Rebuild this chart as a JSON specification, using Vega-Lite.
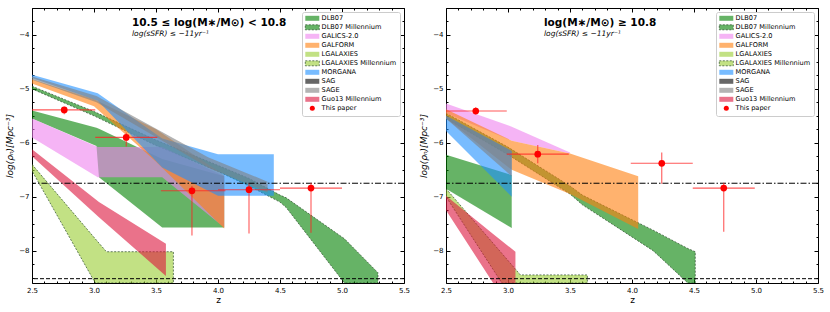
{
  "$schema": "https://vega.github.io/schema/vega-lite/v6.json",
  "padding": {"left": 5, "top": 7, "right": 5, "bottom": 4},
  "spacing": 8,
  "config": {
    "view": {"stroke": "black", "strokeWidth": 1},
    "font": "DejaVu Sans",
    "axis": {"grid": false, "domain": false, "labelFont": "DejaVu Sans", "labelFontSize": 7, "labelColor": "black", "tickColor": "black", "labelFlush": false, "labelOverlap": false, "titleFont": "DejaVu Sans", "titleColor": "black", "titleFontWeight": "normal"},
    "legend": {"title": null, "orient": "top-right", "offset": 4, "fillColor": "white", "strokeColor": "#cccccc", "cornerRadius": 2, "padding": 3, "labelFontSize": 6.6, "labelFont": "DejaVu Sans", "labelColor": "black", "symbolSize": 25, "symbolStrokeWidth": 0.7, "rowPadding": 0, "labelOffset": 6, "symbolOffset": 4}
  },
  "datasets": {
    "bands": [
      {"panel": "L", "series": "DLB07", "z": 2.5, "hi": -5.40, "lo": -5.55},
      {"panel": "L", "series": "DLB07", "z": 3.02, "hi": -5.72, "lo": -6.06},
      {"panel": "L", "series": "DLB07", "z": 3.04, "hi": -5.74, "lo": -6.64},
      {"panel": "L", "series": "DLB07", "z": 3.55, "hi": -6.30, "lo": -7.57},
      {"panel": "L", "series": "DLB07", "z": 4.05, "hi": -6.62, "lo": -7.57},
      {"panel": "L", "series": "DLB07 Millennium", "z": 2.5, "hi": -4.95, "lo": -5.00},
      {"panel": "L", "series": "DLB07 Millennium", "z": 3.0, "hi": -5.42, "lo": -5.50},
      {"panel": "L", "series": "DLB07 Millennium", "z": 3.5, "hi": -5.95, "lo": -6.05},
      {"panel": "L", "series": "DLB07 Millennium", "z": 4.0, "hi": -6.42, "lo": -6.53},
      {"panel": "L", "series": "DLB07 Millennium", "z": 4.25, "hi": -6.66, "lo": -6.80},
      {"panel": "L", "series": "DLB07 Millennium", "z": 4.5, "hi": -6.97, "lo": -7.10},
      {"panel": "L", "series": "DLB07 Millennium", "z": 4.55, "hi": -7.02, "lo": -7.20},
      {"panel": "L", "series": "DLB07 Millennium", "z": 5.02, "hi": -7.78, "lo": -8.60},
      {"panel": "L", "series": "DLB07 Millennium", "z": 5.29, "hi": -8.41, "lo": -8.60},
      {"panel": "L", "series": "GALICS-2.0", "z": 2.5, "hi": -5.55, "lo": -5.90},
      {"panel": "L", "series": "GALICS-2.0", "z": 3.03, "hi": -6.08, "lo": -6.64},
      {"panel": "L", "series": "GALICS-2.0", "z": 3.55, "hi": -6.08, "lo": -6.64},
      {"panel": "L", "series": "GALICS-2.0", "z": 4.05, "hi": -6.62, "lo": -7.57},
      {"panel": "L", "series": "GALFORM", "z": 2.5, "hi": -4.82, "lo": -4.90},
      {"panel": "L", "series": "GALFORM", "z": 3.0, "hi": -5.19, "lo": -5.32},
      {"panel": "L", "series": "GALFORM", "z": 3.5, "hi": -5.75, "lo": -6.35},
      {"panel": "L", "series": "GALFORM", "z": 4.05, "hi": -6.60, "lo": -7.59},
      {"panel": "L", "series": "LGALAXIES Millennium", "z": 2.5, "hi": -6.40, "lo": -6.52},
      {"panel": "L", "series": "LGALAXIES Millennium", "z": 3.01, "hi": -7.78, "lo": -8.60},
      {"panel": "L", "series": "LGALAXIES Millennium", "z": 3.1, "hi": -8.02, "lo": -8.60},
      {"panel": "L", "series": "LGALAXIES Millennium", "z": 3.64, "hi": -8.02, "lo": -8.60},
      {"panel": "L", "series": "MORGANA", "z": 2.5, "hi": -4.74, "lo": -4.80},
      {"panel": "L", "series": "MORGANA", "z": 3.03, "hi": -5.08, "lo": -5.22},
      {"panel": "L", "series": "MORGANA", "z": 3.55, "hi": -5.92, "lo": -6.46},
      {"panel": "L", "series": "MORGANA", "z": 4.0, "hi": -6.21, "lo": -6.98},
      {"panel": "L", "series": "MORGANA", "z": 4.45, "hi": -6.21, "lo": -6.98},
      {"panel": "L", "series": "SAGE", "z": 2.5, "hi": -4.77, "lo": -4.83},
      {"panel": "L", "series": "SAGE", "z": 3.02, "hi": -5.13, "lo": -5.25},
      {"panel": "L", "series": "SAGE", "z": 3.92, "hi": -6.27, "lo": -6.46},
      {"panel": "L", "series": "SAGE", "z": 4.4, "hi": -6.72, "lo": -6.92},
      {"panel": "L", "series": "Guo13 Millennium", "z": 2.5, "hi": -6.12, "lo": -6.25},
      {"panel": "L", "series": "Guo13 Millennium", "z": 3.04, "hi": -7.10, "lo": -7.38},
      {"panel": "L", "series": "Guo13 Millennium", "z": 3.58, "hi": -7.87, "lo": -8.47},
      {"panel": "R", "series": "DLB07", "z": 2.5, "hi": -6.22, "lo": -6.85},
      {"panel": "R", "series": "DLB07", "z": 3.03, "hi": -6.60, "lo": -7.58},
      {"panel": "R", "series": "DLB07 Millennium", "z": 2.5, "hi": -5.45, "lo": -5.55},
      {"panel": "R", "series": "DLB07 Millennium", "z": 3.0, "hi": -6.08, "lo": -6.22},
      {"panel": "R", "series": "DLB07 Millennium", "z": 3.5, "hi": -6.80, "lo": -6.95},
      {"panel": "R", "series": "DLB07 Millennium", "z": 3.6, "hi": -6.97, "lo": -7.15},
      {"panel": "R", "series": "DLB07 Millennium", "z": 4.17, "hi": -7.62, "lo": -8.00},
      {"panel": "R", "series": "DLB07 Millennium", "z": 4.45, "hi": -7.96, "lo": -8.60},
      {"panel": "R", "series": "DLB07 Millennium", "z": 4.51, "hi": -8.02, "lo": -8.60},
      {"panel": "R", "series": "GALICS-2.0", "z": 2.5, "hi": -5.27, "lo": -5.45},
      {"panel": "R", "series": "GALICS-2.0", "z": 3.03, "hi": -5.70, "lo": -5.96},
      {"panel": "R", "series": "GALICS-2.0", "z": 3.5, "hi": -6.18, "lo": -6.20},
      {"panel": "R", "series": "GALFORM", "z": 2.5, "hi": -5.38, "lo": -5.55},
      {"panel": "R", "series": "GALFORM", "z": 3.03, "hi": -5.96, "lo": -6.50},
      {"panel": "R", "series": "GALFORM", "z": 3.5, "hi": -6.20, "lo": -6.95},
      {"panel": "R", "series": "GALFORM", "z": 4.05, "hi": -6.62, "lo": -7.60},
      {"panel": "R", "series": "LGALAXIES Millennium", "z": 2.5, "hi": -6.85, "lo": -7.00},
      {"panel": "R", "series": "LGALAXIES Millennium", "z": 2.95, "hi": -8.05, "lo": -8.60},
      {"panel": "R", "series": "LGALAXIES Millennium", "z": 3.1, "hi": -8.45, "lo": -8.60},
      {"panel": "R", "series": "LGALAXIES Millennium", "z": 3.64, "hi": -8.45, "lo": -8.60},
      {"panel": "R", "series": "MORGANA", "z": 2.5, "hi": -5.50, "lo": -5.78},
      {"panel": "R", "series": "MORGANA", "z": 3.03, "hi": -6.15, "lo": -7.00},
      {"panel": "R", "series": "SAGE", "z": 2.5, "hi": -5.50, "lo": -5.55},
      {"panel": "R", "series": "SAGE", "z": 3.03, "hi": -6.15, "lo": -6.62},
      {"panel": "R", "series": "Guo13 Millennium", "z": 2.5, "hi": -6.98, "lo": -7.25},
      {"panel": "R", "series": "Guo13 Millennium", "z": 2.88, "hi": -7.69, "lo": -8.60},
      {"panel": "R", "series": "Guo13 Millennium", "z": 3.06, "hi": -8.02, "lo": -8.60}
    ],
    "pts": [
      {"panel": "L", "z": 2.76, "y": -5.39, "zlo": 2.5, "zhi": 3.01, "ylo": -5.47, "yhi": -5.33},
      {"panel": "L", "z": 3.26, "y": -5.90, "zlo": 3.01, "zhi": 3.51, "ylo": -6.07, "yhi": -5.81},
      {"panel": "L", "z": 3.79, "y": -6.89, "zlo": 3.54, "zhi": 4.06, "ylo": -7.72, "yhi": -6.80},
      {"panel": "L", "z": 4.25, "y": -6.87, "zlo": 4.0, "zhi": 4.5, "ylo": -7.68, "yhi": -6.76},
      {"panel": "L", "z": 4.75, "y": -6.84, "zlo": 4.5, "zhi": 5.0, "ylo": -7.67, "yhi": -6.74},
      {"panel": "R", "z": 2.74, "y": -5.41, "zlo": 2.5, "zhi": 2.99, "ylo": -5.48, "yhi": -5.34},
      {"panel": "R", "z": 3.24, "y": -6.21, "zlo": 2.99, "zhi": 3.49, "ylo": -6.38, "yhi": -6.04},
      {"panel": "R", "z": 4.24, "y": -6.38, "zlo": 3.99, "zhi": 4.49, "ylo": -6.76, "yhi": -6.18},
      {"panel": "R", "z": 4.74, "y": -6.84, "zlo": 4.49, "zhi": 4.99, "ylo": -7.65, "yhi": -6.74}
    ],
    "lines": [
      {"style": "dashdot", "y": -6.75},
      {"style": "dashed", "y": -8.52}
    ]
  },
  "resolve": {"scale": {"color": "independent"}, "legend": {"color": "independent"}},
  "hconcat": [
    {
      "width": 372, "height": 275,
      "title": {"text": "10.5 ≤ log(M∗/M⊙) < 10.8", "subtitle": "log(sSFR) ≤ −11yr⁻¹", "anchor": "start", "frame": "group", "dx": 100, "offset": -30, "fontSize": 10.5, "fontWeight": "bold", "font": "DejaVu Sans", "color": "black", "subtitleFont": "DejaVu Sans", "subtitleFontSize": 7.5, "subtitleFontStyle": "italic", "subtitleColor": "black", "subtitlePadding": 2},
      "resolve": {"axis": {"x": "independent", "y": "independent"}},
      "layer": [
        {
          "data": {"name": "bands"},
          "transform": [{"filter": "datum.panel == 'L'"}],
          "mark": {"type": "area", "clip": true, "fillOpacity": 0.6, "strokeDash": [2, 1.5], "strokeWidth": 0.7},
          "encoding": {
            "x": {"field": "z", "type": "quantitative", "scale": {"domain": [2.5, 5.5], "nice": false, "zero": false}, "axis": {"orient": "bottom", "values": [2.5, 3, 3.5, 4, 4.5, 5, 5.5], "format": ".1f", "tickSize": -4, "labelPadding": 7, "title": "z", "titleFontSize": 9, "titlePadding": 2}},
            "y": {"field": "hi", "type": "quantitative", "scale": {"domain": [-8.6, -3.5], "nice": false, "zero": false}, "axis": {"orient": "left", "values": [-8, -7, -6, -5, -4], "format": "d", "tickSize": -4, "labelPadding": 7, "title": "log(ρₙ)[Mpc⁻³]", "titleFontStyle": "italic", "titleFontSize": 9, "titlePadding": 4}},
            "y2": {"field": "lo"},
            "color": {"field": "series", "type": "nominal",
              "scale": {"domain": ["DLB07", "DLB07 Millennium", "GALICS-2.0", "GALFORM", "LGALAXIES", "LGALAXIES Millennium", "MORGANA", "SAG", "SAGE", "Guo13 Millennium", "This paper"],
                        "range": ["#008000", "#008000", "#ee82ee", "#ff7f0e", "#9acd32", "#9acd32", "#1e90ff", "#000000", "#808080", "#dc143c", "#ff0000"]},
              "legend": {
                "encoding": {"symbols": {
                  "shape": {"value": {"expr": "datum.label == 'This paper' ? 'circle' : 'M-2.8,-1H2.8V1H-2.8Z'"}},
                  "fillOpacity": {"value": {"expr": "datum.label == 'This paper' ? 1 : 0.6"}},
                  "opacity": {"value": 1},
                  "stroke": {"value": {"expr": "(datum.label == 'DLB07 Millennium' || datum.label == 'LGALAXIES Millennium') ? '#2a4a2a' : 'transparent'"}},
                  "strokeDash": {"value": [2, 1.5]}
                }}}},
            "stroke": {"condition": {"test": "datum.series == 'DLB07 Millennium' || datum.series == 'LGALAXIES Millennium'", "value": "#2a4a2a"}, "value": "transparent"}
          }
        },
        {
          "data": {"name": "lines"},
          "mark": {"type": "rule", "color": "black", "strokeWidth": 1},
          "encoding": {
            "y": {"field": "y", "type": "quantitative", "axis": {"orient": "right", "values": [-8, -7, -6, -5, -4], "labels": false, "tickSize": -4, "title": null}},
            "strokeDash": {"field": "style", "type": "nominal", "scale": {"domain": ["dashdot", "dashed"], "range": [[6, 2, 1.5, 2], [4, 2]]}, "legend": null}
          }
        },
        {
          "data": {"name": "pts"},
          "transform": [{"filter": "datum.panel == 'L'"}],
          "mark": {"type": "rule", "color": "#ff2020", "opacity": 0.75, "strokeWidth": 1.1},
          "encoding": {
            "x": {"field": "zlo", "type": "quantitative", "axis": {"orient": "top", "values": [2.5, 3, 3.5, 4, 4.5, 5, 5.5], "labels": false, "tickSize": -4, "title": null}},
            "x2": {"field": "zhi"},
            "y": {"field": "y", "type": "quantitative", "axis": {"orient": "right", "values": [-8.5, -8.25, -7.75, -7.5, -7.25, -6.75, -6.5, -6.25, -5.75, -5.5, -5.25, -4.75, -4.5, -4.25, -3.75, -3.5], "labels": false, "tickSize": -2, "title": null}}
          }
        },
        {
          "data": {"name": "pts"},
          "transform": [{"filter": "datum.panel == 'L'"}],
          "mark": {"type": "rule", "color": "#ff2020", "opacity": 0.75, "strokeWidth": 1.1},
          "encoding": {
            "x": {"field": "z", "type": "quantitative", "axis": {"orient": "top", "values": [2.6, 2.7, 2.8, 2.9, 3.1, 3.2, 3.3, 3.4, 3.6, 3.7, 3.8, 3.9, 4.1, 4.2, 4.3, 4.4, 4.6, 4.7, 4.8, 4.9, 5.1, 5.2, 5.3, 5.4], "labels": false, "tickSize": -2, "title": null}},
            "y": {"field": "ylo", "type": "quantitative", "axis": null},
            "y2": {"field": "yhi"}
          }
        },
        {
          "data": {"name": "pts"},
          "transform": [{"filter": "datum.panel == 'L'"}],
          "mark": {"type": "circle", "color": "#ff0000", "opacity": 1, "size": 45},
          "encoding": {
            "x": {"field": "z", "type": "quantitative", "axis": {"orient": "bottom", "values": [2.6, 2.7, 2.8, 2.9, 3.1, 3.2, 3.3, 3.4, 3.6, 3.7, 3.8, 3.9, 4.1, 4.2, 4.3, 4.4, 4.6, 4.7, 4.8, 4.9, 5.1, 5.2, 5.3, 5.4], "labels": false, "tickSize": -2, "title": null}},
            "y": {"field": "y", "type": "quantitative", "axis": {"orient": "left", "values": [-8.5, -8.25, -7.75, -7.5, -7.25, -6.75, -6.5, -6.25, -5.75, -5.5, -5.25, -4.75, -4.5, -4.25, -3.75, -3.5], "labels": false, "tickSize": -2, "title": null}}
          }
        }
      ]
    },
    {
      "width": 372, "height": 275,
      "title": {"text": "log(M∗/M⊙) ≥ 10.8", "subtitle": "log(sSFR) ≤ −11yr⁻¹", "anchor": "start", "frame": "group", "dx": 98, "offset": -30, "fontSize": 10.5, "fontWeight": "bold", "font": "DejaVu Sans", "color": "black", "subtitleFont": "DejaVu Sans", "subtitleFontSize": 7.5, "subtitleFontStyle": "italic", "subtitleColor": "black", "subtitlePadding": 2},
      "resolve": {"axis": {"x": "independent", "y": "independent"}},
      "layer": [
        {
          "data": {"name": "bands"},
          "transform": [{"filter": "datum.panel == 'R'"}],
          "mark": {"type": "area", "clip": true, "fillOpacity": 0.6, "strokeDash": [2, 1.5], "strokeWidth": 0.7},
          "encoding": {
            "x": {"field": "z", "type": "quantitative", "scale": {"domain": [2.5, 5.5], "nice": false, "zero": false}, "axis": {"orient": "bottom", "values": [2.5, 3, 3.5, 4, 4.5, 5, 5.5], "format": ".1f", "tickSize": -4, "labelPadding": 7, "title": "z", "titleFontSize": 9, "titlePadding": 2}},
            "y": {"field": "hi", "type": "quantitative", "scale": {"domain": [-8.6, -3.5], "nice": false, "zero": false}, "axis": {"orient": "left", "values": [-8, -7, -6, -5, -4], "format": "d", "tickSize": -4, "labelPadding": 7, "title": "log(ρₙ)[Mpc⁻³]", "titleFontStyle": "italic", "titleFontSize": 9, "titlePadding": 4}},
            "y2": {"field": "lo"},
            "color": {"field": "series", "type": "nominal",
              "scale": {"domain": ["DLB07", "DLB07 Millennium", "GALICS-2.0", "GALFORM", "LGALAXIES", "LGALAXIES Millennium", "MORGANA", "SAG", "SAGE", "Guo13 Millennium", "This paper"],
                        "range": ["#008000", "#008000", "#ee82ee", "#ff7f0e", "#9acd32", "#9acd32", "#1e90ff", "#000000", "#808080", "#dc143c", "#ff0000"]},
              "legend": {
                "encoding": {"symbols": {
                  "shape": {"value": {"expr": "datum.label == 'This paper' ? 'circle' : 'M-2.8,-1H2.8V1H-2.8Z'"}},
                  "fillOpacity": {"value": {"expr": "datum.label == 'This paper' ? 1 : 0.6"}},
                  "opacity": {"value": 1},
                  "stroke": {"value": {"expr": "(datum.label == 'DLB07 Millennium' || datum.label == 'LGALAXIES Millennium') ? '#2a4a2a' : 'transparent'"}},
                  "strokeDash": {"value": [2, 1.5]}
                }}}},
            "stroke": {"condition": {"test": "datum.series == 'DLB07 Millennium' || datum.series == 'LGALAXIES Millennium'", "value": "#2a4a2a"}, "value": "transparent"}
          }
        },
        {
          "data": {"name": "lines"},
          "mark": {"type": "rule", "color": "black", "strokeWidth": 1},
          "encoding": {
            "y": {"field": "y", "type": "quantitative", "axis": {"orient": "right", "values": [-8, -7, -6, -5, -4], "labels": false, "tickSize": -4, "title": null}},
            "strokeDash": {"field": "style", "type": "nominal", "scale": {"domain": ["dashdot", "dashed"], "range": [[6, 2, 1.5, 2], [4, 2]]}, "legend": null}
          }
        },
        {
          "data": {"name": "pts"},
          "transform": [{"filter": "datum.panel == 'R'"}],
          "mark": {"type": "rule", "color": "#ff2020", "opacity": 0.75, "strokeWidth": 1.1},
          "encoding": {
            "x": {"field": "zlo", "type": "quantitative", "axis": {"orient": "top", "values": [2.5, 3, 3.5, 4, 4.5, 5, 5.5], "labels": false, "tickSize": -4, "title": null}},
            "x2": {"field": "zhi"},
            "y": {"field": "y", "type": "quantitative", "axis": {"orient": "right", "values": [-8.5, -8.25, -7.75, -7.5, -7.25, -6.75, -6.5, -6.25, -5.75, -5.5, -5.25, -4.75, -4.5, -4.25, -3.75, -3.5], "labels": false, "tickSize": -2, "title": null}}
          }
        },
        {
          "data": {"name": "pts"},
          "transform": [{"filter": "datum.panel == 'R'"}],
          "mark": {"type": "rule", "color": "#ff2020", "opacity": 0.75, "strokeWidth": 1.1},
          "encoding": {
            "x": {"field": "z", "type": "quantitative", "axis": {"orient": "top", "values": [2.6, 2.7, 2.8, 2.9, 3.1, 3.2, 3.3, 3.4, 3.6, 3.7, 3.8, 3.9, 4.1, 4.2, 4.3, 4.4, 4.6, 4.7, 4.8, 4.9, 5.1, 5.2, 5.3, 5.4], "labels": false, "tickSize": -2, "title": null}},
            "y": {"field": "ylo", "type": "quantitative", "axis": null},
            "y2": {"field": "yhi"}
          }
        },
        {
          "data": {"name": "pts"},
          "transform": [{"filter": "datum.panel == 'R'"}],
          "mark": {"type": "circle", "color": "#ff0000", "opacity": 1, "size": 45},
          "encoding": {
            "x": {"field": "z", "type": "quantitative", "axis": {"orient": "bottom", "values": [2.6, 2.7, 2.8, 2.9, 3.1, 3.2, 3.3, 3.4, 3.6, 3.7, 3.8, 3.9, 4.1, 4.2, 4.3, 4.4, 4.6, 4.7, 4.8, 4.9, 5.1, 5.2, 5.3, 5.4], "labels": false, "tickSize": -2, "title": null}},
            "y": {"field": "y", "type": "quantitative", "axis": {"orient": "left", "values": [-8.5, -8.25, -7.75, -7.5, -7.25, -6.75, -6.5, -6.25, -5.75, -5.5, -5.25, -4.75, -4.5, -4.25, -3.75, -3.5], "labels": false, "tickSize": -2, "title": null}}
          }
        }
      ]
    }
  ]
}
